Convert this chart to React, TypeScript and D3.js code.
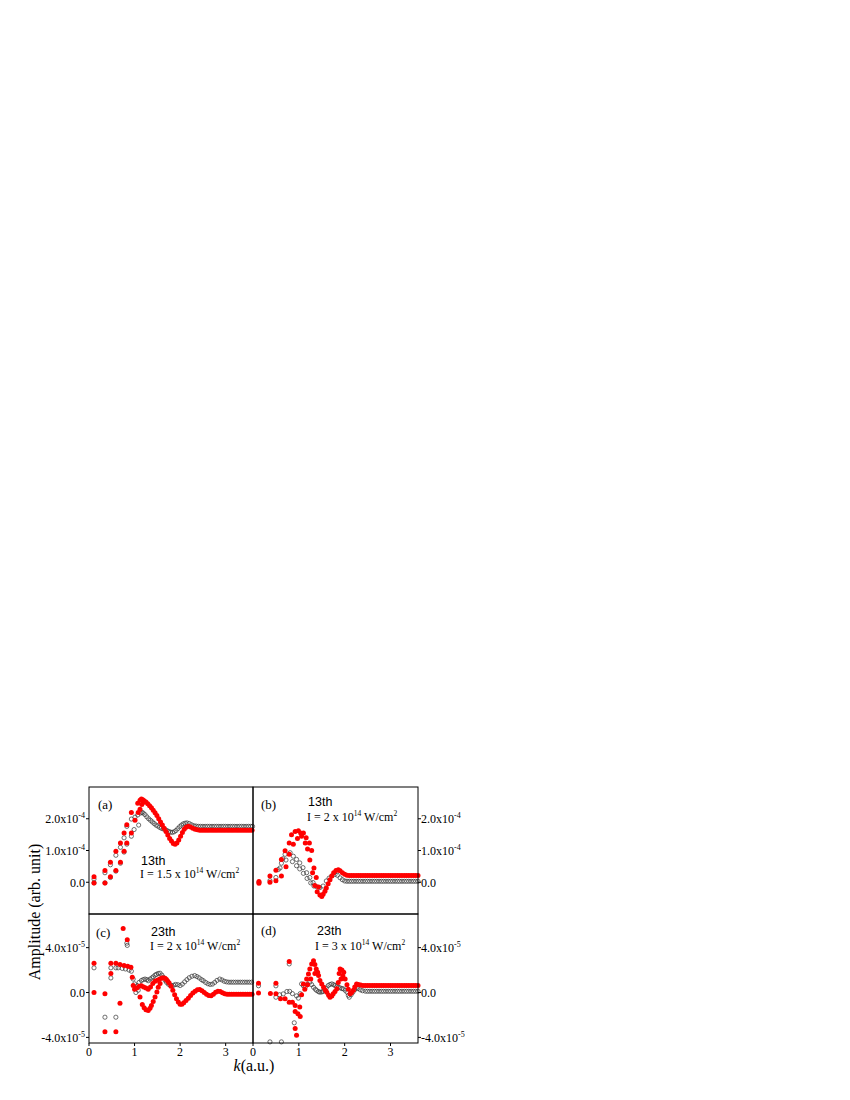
import React from "react";
import * as d3 from "d3";

// ---------- data (k in a.u.; amplitude in units of 1e-4 for a,b and 1e-5 for c,d) ----------
const kTicks = [0, 1, 2, 3];
const topTicks = [0, 1, 2];
const bottomTicks = [-4, 0, 4];

const aRed: [number, number][] = [
  [0.11,0.17],[0.11,-0.02],[0.35,0.37],[0.35,-0.02],[0.47,0.63],[0.47,0.17],[0.59,0.98],[0.59,0.37],
  [0.69,1.24],[0.69,0.63],[0.77,1.55],[0.77,0.98],[0.83,1.81],[0.83,1.24],[0.93,2.2],[0.93,1.55],
  [1.01,1.95],[1.07,2.49],[1.08,2.2],[1.12,2.3],[1.12,2.58],[1.15,2.62],[1.16,2.45],[1.18,2.6],[1.2,2.52],
  [1.21,2.57],[1.25,2.53],[1.29,2.47],[1.33,2.41],[1.37,2.35],[1.41,2.27],[1.45,2.19],[1.49,2.1],[1.53,2.0],
  [1.57,1.9],[1.61,1.8],[1.65,1.7],[1.69,1.6],[1.73,1.49],[1.77,1.38],[1.81,1.3],[1.85,1.22],[1.89,1.2],
  [1.93,1.24],[1.97,1.33],[2.01,1.45],[2.05,1.57],[2.09,1.67],[2.13,1.73],[2.18,1.76],[2.23,1.74],[2.28,1.7],
  [2.33,1.67],[2.38,1.65],[2.43,1.64],[2.48,1.64],[2.53,1.64],[2.58,1.64],[2.63,1.64],[2.68,1.64],[2.73,1.64],
  [2.78,1.64],[2.83,1.64],[2.88,1.64],[2.93,1.64],[2.98,1.64],[3.03,1.64],[3.08,1.64],[3.13,1.64],[3.18,1.64],
  [3.23,1.64],[3.28,1.64],[3.33,1.64],[3.38,1.64],[3.43,1.64],[3.48,1.64],[3.53,1.64],[3.58,1.64],
];
const aOpen: [number, number][] = [
  [0.11,0.1],[0.11,-0.02],[0.35,0.3],[0.35,-0.02],[0.47,0.55],[0.47,0.15],[0.59,0.85],[0.59,0.35],
  [0.69,1.1],[0.69,0.6],[0.77,1.4],[0.77,0.95],[0.83,1.76],[0.83,1.2],[0.93,1.99],[0.93,1.45],[0.99,1.66],
  [1.01,2.05],[1.07,2.12],[1.09,1.8],[1.13,2.18],[1.16,2.2],[1.19,2.18],[1.23,2.13],[1.27,2.06],[1.31,2.0],
  [1.35,1.95],[1.39,1.9],[1.43,1.85],[1.47,1.8],[1.51,1.77],[1.55,1.73],[1.59,1.7],[1.63,1.68],[1.67,1.66],
  [1.71,1.63],[1.75,1.6],[1.79,1.58],[1.83,1.57],[1.87,1.59],[1.91,1.63],[1.95,1.69],[1.99,1.75],[2.03,1.8],
  [2.07,1.84],[2.11,1.86],[2.15,1.87],[2.2,1.85],[2.25,1.81],[2.3,1.78],[2.35,1.77],[2.4,1.76],[2.45,1.76],
  [2.5,1.76],[2.55,1.76],[2.6,1.76],[2.65,1.76],[2.7,1.76],[2.75,1.76],[2.8,1.76],[2.85,1.76],[2.9,1.76],
  [2.95,1.76],[3.0,1.76],[3.05,1.76],[3.1,1.76],[3.15,1.76],[3.2,1.76],[3.25,1.76],[3.3,1.76],[3.35,1.76],
  [3.4,1.76],[3.45,1.76],[3.5,1.76],[3.55,1.76],[3.59,1.76],
];
const bRed: [number, number][] = [
  [0.13,0.02],[0.13,-0.03],[0.37,0.0],[0.37,0.2],[0.5,0.05],[0.5,0.38],[0.62,0.2],[0.62,0.72],[0.7,0.99],
  [0.72,0.49],[0.79,1.24],[0.79,0.88],[0.84,1.5],[0.88,1.2],[0.92,1.6],[0.97,1.38],[0.99,1.62],[1.04,1.55],
  [1.06,1.45],[1.1,1.55],[1.14,1.24],[1.16,1.4],[1.19,1.05],[1.23,1.24],[1.24,0.7],[1.28,1.0],[1.3,0.3],
  [1.33,0.45],[1.35,-0.1],[1.38,0.15],[1.4,-0.3],[1.43,-0.15],[1.46,-0.4],[1.5,-0.45],[1.53,-0.38],
  [1.57,-0.28],[1.6,-0.18],[1.64,-0.05],[1.68,0.08],[1.72,0.2],[1.76,0.3],[1.81,0.37],[1.86,0.39],[1.9,0.36],
  [1.95,0.3],[2.0,0.25],[2.05,0.22],[2.1,0.21],[2.15,0.21],[2.2,0.21],[2.25,0.21],[2.3,0.21],[2.35,0.21],
  [2.4,0.21],[2.45,0.21],[2.5,0.21],[2.55,0.21],[2.6,0.21],[2.65,0.21],[2.7,0.21],[2.75,0.21],[2.8,0.21],
  [2.85,0.21],[2.9,0.21],[2.95,0.21],[3.0,0.21],[3.05,0.21],[3.1,0.21],[3.15,0.21],[3.2,0.21],[3.25,0.21],
  [3.3,0.21],[3.35,0.21],[3.4,0.21],[3.45,0.21],[3.5,0.21],[3.55,0.21],[3.6,0.21],
];
const bOpen: [number, number][] = [
  [0.13,0.0],[0.37,0.05],[0.5,0.15],[0.55,0.4],[0.59,0.45],[0.62,0.6],[0.65,0.74],[0.7,0.88],[0.72,0.7],
  [0.81,0.93],[0.86,0.65],[0.88,0.82],[0.95,0.72],[0.95,0.52],[1.02,0.61],[1.02,0.42],[1.09,0.46],[1.1,0.28],
  [1.17,0.3],[1.18,0.12],[1.24,0.15],[1.26,-0.02],[1.31,-0.01],[1.33,-0.12],[1.39,-0.14],[1.46,-0.17],
  [1.53,-0.12],[1.6,0.04],[1.66,0.13],[1.72,0.2],[1.79,0.25],[1.84,0.22],[1.9,0.14],[1.95,0.08],[2.0,0.04],
  [2.05,0.03],[2.1,0.03],[2.15,0.03],[2.2,0.03],[2.25,0.03],[2.3,0.03],[2.35,0.03],[2.4,0.03],[2.45,0.03],
  [2.5,0.03],[2.55,0.03],[2.6,0.03],[2.65,0.03],[2.7,0.03],[2.75,0.03],[2.8,0.03],[2.85,0.03],[2.9,0.03],
  [2.95,0.03],[3.0,0.03],[3.05,0.03],[3.1,0.03],[3.15,0.03],[3.2,0.03],[3.25,0.03],[3.3,0.03],[3.35,0.03],
  [3.4,0.03],[3.45,0.03],[3.5,0.03],[3.55,0.03],[3.6,0.03],
];
const cRed: [number, number][] = [
  [0.11,2.6],[0.11,0.0],[0.35,-0.1],[0.35,-3.5],[0.48,2.6],[0.48,1.7],[0.59,2.6],[0.59,-3.5],[0.68,2.5],
  [0.68,-0.95],[0.75,5.7],[0.77,2.4],[0.84,4.7],[0.85,2.35],[0.92,2.25],[0.95,1.36],[0.97,0.62],[1.0,0.3],
  [1.05,0.4],[1.1,0.55],[1.12,-0.4],[1.15,0.6],[1.17,-1.07],[1.2,0.5],[1.21,-1.35],[1.25,-1.54],[1.25,0.4],
  [1.3,-1.6],[1.3,0.3],[1.34,-1.4],[1.35,0.5],[1.37,-1.16],[1.4,0.8],[1.41,-0.8],[1.45,-0.4],[1.45,1.0],
  [1.49,0.05],[1.5,1.1],[1.52,0.47],[1.55,1.2],[1.56,0.8],[1.6,1.3],[1.64,1.3],[1.67,1.27],[1.7,1.15],
  [1.73,1.0],[1.76,0.85],[1.8,0.55],[1.84,0.2],[1.88,-0.2],[1.92,-0.56],[1.96,-0.85],[2.0,-1.05],[2.04,-1.05],
  [2.08,-0.92],[2.13,-0.72],[2.18,-0.5],[2.23,-0.27],[2.28,-0.05],[2.33,0.12],[2.38,0.25],[2.43,0.26],
  [2.48,0.15],[2.53,0.0],[2.58,-0.15],[2.63,-0.27],[2.68,-0.28],[2.73,-0.15],[2.78,0.02],[2.83,0.12],
  [2.88,0.1],[2.93,-0.02],[2.98,-0.12],[3.03,-0.16],[3.08,-0.16],[3.13,-0.16],[3.18,-0.16],[3.23,-0.16],
  [3.28,-0.16],[3.33,-0.16],[3.38,-0.16],[3.43,-0.16],[3.48,-0.16],[3.53,-0.16],[3.58,-0.16],
];
const cOpen: [number, number][] = [
  [0.11,2.2],[0.35,-2.2],[0.48,2.2],[0.48,1.3],[0.59,2.2],[0.59,-2.2],[0.64,2.2],[0.73,2.15],[0.8,2.1],
  [0.83,4.4],[0.84,4.2],[0.88,2.0],[0.93,1.9],[0.97,1.2],[1.0,0.77],[1.03,0.0],[1.06,0.6],[1.08,0.2],
  [1.1,0.9],[1.15,1.07],[1.19,1.15],[1.23,1.2],[1.27,1.15],[1.3,1.05],[1.34,1.2],[1.38,1.3],[1.41,1.4],
  [1.45,1.55],[1.48,1.62],[1.52,1.7],[1.56,1.72],[1.6,1.55],[1.63,1.36],[1.67,1.1],[1.7,0.92],[1.74,0.75],
  [1.78,0.65],[1.82,0.6],[1.86,0.65],[1.9,0.72],[1.95,0.7],[2.0,0.62],[2.05,0.75],[2.1,0.95],[2.15,1.15],
  [2.2,1.32],[2.26,1.45],[2.32,1.51],[2.37,1.42],[2.42,1.3],[2.47,1.15],[2.51,1.05],[2.56,0.9],[2.61,0.78],
  [2.66,0.72],[2.71,0.75],[2.76,0.9],[2.81,1.08],[2.87,1.2],[2.92,1.12],[2.97,1.0],[3.02,0.95],[3.07,0.92],
  [3.12,0.92],[3.17,0.92],[3.22,0.92],[3.27,0.92],[3.32,0.92],[3.37,0.92],[3.42,0.92],[3.47,0.92],
  [3.52,0.92],[3.57,0.92],
];
const dRed: [number, number][] = [
  [0.12,0.83],[0.12,-0.05],[0.38,-0.08],[0.5,0.83],[0.5,-0.12],[0.6,-0.56],[0.7,-0.56],[0.79,2.76],
  [0.79,-0.86],[0.86,-0.86],[0.92,-1.16],[0.92,-1.69],[0.92,-3.2],[0.95,-3.8],[0.98,-1.9],[1.02,-1.3],
  [1.03,-2.13],[1.06,-0.2],[1.1,0.77],[1.13,0.3],[1.17,1.2],[1.19,0.7],[1.21,1.66],[1.24,2.1],[1.26,1.2],
  [1.28,2.55],[1.32,2.84],[1.35,2.5],[1.35,1.7],[1.38,2.1],[1.41,1.8],[1.43,1.51],[1.46,1.07],[1.5,0.75],
  [1.54,0.47],[1.58,0.2],[1.61,0.03],[1.65,-0.25],[1.68,-0.42],[1.72,-0.3],[1.75,-0.12],[1.79,0.1],
  [1.83,0.33],[1.86,0.9],[1.88,1.7],[1.9,2.1],[1.92,1.2],[1.94,2.0],[1.96,1.5],[1.98,1.8],[2.01,1.2],
  [2.05,0.7],[2.08,0.3],[2.12,-0.12],[2.15,0.0],[2.19,0.2],[2.22,0.5],[2.26,0.75],[2.3,0.72],[2.35,0.66],
  [2.4,0.63],[2.45,0.63],[2.5,0.63],[2.55,0.63],[2.6,0.63],[2.65,0.63],[2.7,0.63],[2.75,0.63],[2.8,0.63],
  [2.85,0.63],[2.9,0.63],[2.95,0.63],[3.0,0.63],[3.05,0.63],[3.1,0.63],[3.15,0.63],[3.2,0.63],[3.25,0.63],
  [3.3,0.63],[3.35,0.63],[3.4,0.63],[3.45,0.63],[3.5,0.63],[3.55,0.63],[3.6,0.63],
];
const dOpen: [number, number][] = [
  [0.12,0.6],[0.37,-4.4],[0.5,0.6],[0.5,-0.42],[0.58,-0.2],[0.62,-4.4],[0.66,-0.12],[0.74,0.09],[0.79,2.55],
  [0.8,0.1],[0.86,-0.1],[0.9,-2.7],[0.95,-0.3],[0.99,-0.5],[1.03,-0.1],[1.06,0.77],[1.1,0.6],[1.14,0.47],
  [1.19,0.75],[1.24,0.92],[1.28,0.7],[1.32,0.47],[1.36,0.3],[1.39,0.18],[1.43,0.08],[1.46,0.03],[1.5,0.05],
  [1.53,0.1],[1.57,0.18],[1.6,0.4],[1.64,0.62],[1.68,0.72],[1.72,0.77],[1.76,0.7],[1.79,0.62],[1.83,0.55],
  [1.86,0.47],[1.9,0.42],[1.94,0.35],[1.97,0.33],[2.01,0.2],[2.05,0.03],[2.08,-0.25],[2.1,-0.42],[2.14,-0.2],
  [2.18,0.03],[2.22,0.25],[2.25,0.42],[2.29,0.35],[2.34,0.24],[2.39,0.16],[2.45,0.12],[2.5,0.11],[2.55,0.11],
  [2.6,0.11],[2.65,0.11],[2.7,0.11],[2.75,0.11],[2.8,0.11],[2.85,0.11],[2.9,0.11],[2.95,0.11],[3.0,0.11],
  [3.05,0.11],[3.1,0.11],[3.15,0.11],[3.2,0.11],[3.25,0.11],[3.3,0.11],[3.35,0.11],[3.4,0.11],[3.45,0.11],
  [3.5,0.11],[3.55,0.11],[3.6,0.11],
];

const SERIF = "'Liberation Serif', 'Times New Roman', Times, serif";
const SANS = "'Liberation Sans', Arial, sans-serif";

type PanelDef = {
  tag: string;
  harmonic: string;
  intensity: string;
  x: number; y: number; w: number; h: number;
  yDomain: [number, number];
  yTicks: number[];
  exp: string;
  side: "left" | "right";
  xAxis: boolean;
  red: [number, number][];
  open: [number, number][];
  tagPos: [number, number];
  hPos: [number, number];
  iPos: [number, number];
};

const panels: PanelDef[] = [
  { tag: "(a)", harmonic: "13th", intensity: "1.5", x: 89, y: 787, w: 164, h: 127, yDomain: [-1, 3], yTicks: topTicks, exp: "-4", side: "left", xAxis: false, red: aRed, open: aOpen, tagPos: [98, 809], hPos: [141, 865], iPos: [140, 878] },
  { tag: "(b)", harmonic: "13th", intensity: "2", x: 253, y: 787, w: 165, h: 127, yDomain: [-1, 3], yTicks: topTicks, exp: "-4", side: "right", xAxis: false, red: bRed, open: bOpen, tagPos: [261, 809], hPos: [308, 806], iPos: [307, 821] },
  { tag: "(c)", harmonic: "23th", intensity: "2", x: 89, y: 914, w: 164, h: 129, yDomain: [-4.5, 7], yTicks: bottomTicks, exp: "-5", side: "left", xAxis: true, red: cRed, open: cOpen, tagPos: [96, 937], hPos: [151, 936], iPos: [150, 950] },
  { tag: "(d)", harmonic: "23th", intensity: "3", x: 253, y: 914, w: 165, h: 129, yDomain: [-4.5, 7], yTicks: bottomTicks, exp: "-5", side: "right", xAxis: true, red: dRed, open: dOpen, tagPos: [261, 935], hPos: [317, 935], iPos: [315, 950] },
];

function tickLabel(v: number, exp: string) {
  if (v === 0) return <>0.0</>;
  return (
    <>
      {v.toFixed(1)}x10<tspan dy={-5} fontSize={8}>{exp}</tspan>
    </>
  );
}

function Panel({ p }: { p: PanelDef }) {
  const xs = d3.scaleLinear().domain([0, 3.6]).range([p.x, p.x + p.w]);
  const ys = d3.scaleLinear().domain(p.yDomain).range([p.y + p.h, p.y]);
  const tickX = p.side === "left" ? p.x : p.x + p.w;
  const dir = p.side === "left" ? -1 : 1;
  return (
    <g>
      {p.open.map((d, i) => (
        <circle key={"o" + i} cx={xs(d[0])} cy={ys(d[1])} r={2.1} fill="none" stroke="#333" strokeWidth={0.7} />
      ))}
      {p.red.map((d, i) => (
        <circle key={"r" + i} cx={xs(d[0])} cy={ys(d[1])} r={2.5} fill="#ff0000" />
      ))}
      <rect x={p.x} y={p.y} width={p.w} height={p.h} fill="none" stroke="#000" strokeWidth={1} />
      {p.yTicks.map((t) => (
        <g key={"yt" + t}>
          <line x1={tickX} x2={tickX + dir * 3} y1={ys(t)} y2={ys(t)} stroke="#000" strokeWidth={1} />
          <text
            x={p.side === "left" ? p.x - 4 : p.x + p.w + 3}
            y={ys(t) + 4.5}
            textAnchor={p.side === "left" ? "end" : "start"}
            fontFamily={SERIF}
            fontSize={12}
          >
            {tickLabel(t, p.exp)}
          </text>
        </g>
      ))}
      {p.xAxis &&
        kTicks.map((t) => (
          <g key={"xt" + t}>
            <line x1={xs(t)} x2={xs(t)} y1={p.y + p.h} y2={p.y + p.h + 3} stroke="#000" strokeWidth={1} />
            <text x={xs(t)} y={p.y + p.h + 13} textAnchor="middle" fontFamily={SERIF} fontSize={12}>
              {t}
            </text>
          </g>
        ))}
      <text x={p.tagPos[0]} y={p.tagPos[1]} fontFamily={SERIF} fontSize={13}>{p.tag}</text>
      <text x={p.hPos[0]} y={p.hPos[1]} fontFamily={SANS} fontSize={12.5}>{p.harmonic}</text>
      <text x={p.iPos[0]} y={p.iPos[1]} fontFamily={SERIF} fontSize={12}>
        I = {p.intensity} x 10<tspan dy={-5} fontSize={7.5}>14</tspan>
        <tspan dy={5}> W/cm</tspan>
        <tspan dy={-5} fontSize={7.5}>2</tspan>
      </text>
    </g>
  );
}

export default function App() {
  return (
    <svg width={850} height={1100} style={{ position: "absolute", left: 0, top: 0, background: "#fff" }}>
      <rect x={0} y={0} width={850} height={1100} fill="#fff" />
      {panels.map((p) => (
        <Panel key={p.tag} p={p} />
      ))}
      <text transform="translate(40,912) rotate(-90)" textAnchor="middle" fontFamily={SERIF} fontSize={16}>
        Amplitude (arb. unit)
      </text>
      <text x={254} y={1071} textAnchor="middle" fontFamily={SERIF} fontSize={16}>
        <tspan fontStyle="italic">k</tspan>(a.u.)
      </text>
    </svg>
  );
}
